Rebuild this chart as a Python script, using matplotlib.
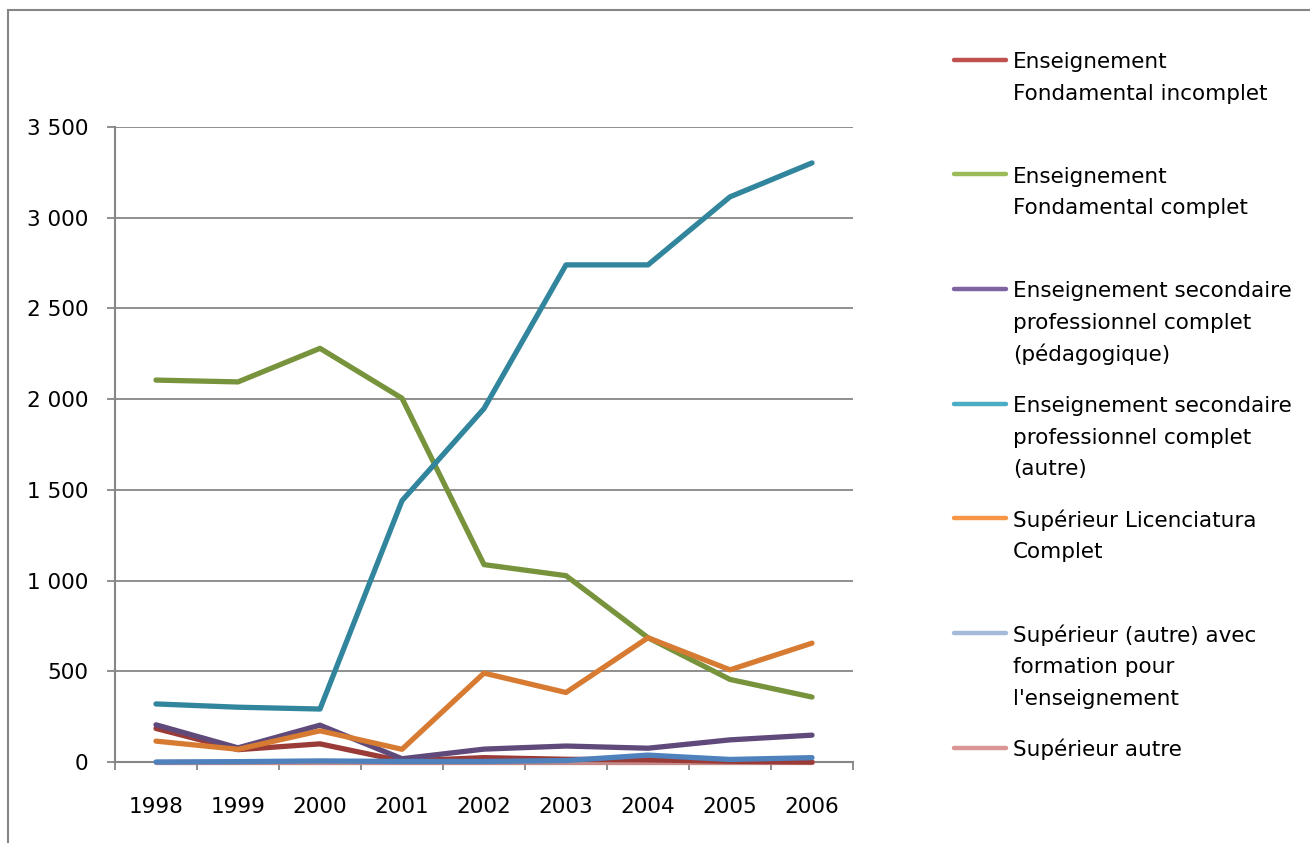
import matplotlib.pyplot as plt
from matplotlib.lines import Line2D
from matplotlib.patches import Rectangle

annees = ['1998', '1999', '2000', '2001', '2002', '2003', '2004', '2005', '2006']

series = [
    "Enseignement\nFondamental incomplet",
    "Enseignement\nFondamental complet",
    "Enseignement secondaire\nprofessionnel complet\n(pédagogique)",
    "Enseignement secondaire\nprofessionnel complet\n(autre)",
    "Supérieur Licenciatura\nComplet",
    "Supérieur (autre) avec\nformation pour\nl'enseignement",
    "Supérieur autre",
]

fond_incomplet = [185, 68, 100, 5, 24, 15, 12, 4, 0]
fond_complet = [2105, 2095, 2280, 2005, 1088, 1027, 685, 455, 358]
sec_pedago = [205, 78, 203, 18, 71, 88, 76, 122, 148]
sec_autre = [320, 302, 292, 1440, 1948, 2740, 2740, 3115, 3302]
licenciatura = [115, 70, 172, 70, 490, 383, 685, 508, 655]
sup_formation = [0, 2, 6, 3, 3, 8, 38, 14, 24]
sup_autre = [0, 0, 0, 0, 0, 0, 0, 0, 0]

valeurs = [fond_incomplet, fond_complet, sec_pedago, sec_autre,
           licenciatura, sup_formation, sup_autre]

# couleurs des lignes (plus foncées) et de la légende
couleurs_lignes = ['#9B3B38', '#77933C', '#604A7B', '#31859C', '#D77B33', '#4F81BD', '#C48A88']
couleurs_legende = ['#C0504D', '#9BBB59', '#8064A2', '#4BACC6', '#F79646', '#A5B9D9', '#D99694']

gris = '#868686'
police = 'DejaVu Sans'
taille = 15.5
W, H = 1310, 843

fig = plt.figure(figsize=(W / 100, H / 100), dpi=100)
ax = fig.add_axes([115 / W, (H - 762) / H, (853 - 115) / W, (762 - 127) / H])

x = list(range(len(annees)))
for k, (vals, c) in enumerate(zip(valeurs, couleurs_lignes)):
    z = 2.8 if k == 6 else 3 + k * 0.01
    ax.plot(x, vals, color=c, lw=3.8, solid_capstyle='round', solid_joinstyle='round',
            clip_on=False, zorder=z)

ax.set_xlim(-0.5, len(annees) - 0.5)
ax.set_ylim(0, 3500)
ax.set_yticks(range(0, 3501, 500))
ax.set_yticklabels(['{:,}'.format(v).replace(',', ' ') for v in range(0, 3501, 500)],
                   fontfamily=police, fontsize=taille)
ax.set_xticks(x)
ax.set_xticklabels(annees, fontfamily=police, fontsize=taille)
ax.set_xticks([i - 0.5 for i in range(len(annees) + 1)], minor=True)
ax.tick_params(axis='x', which='major', length=0, pad=25)
ax.tick_params(axis='x', which='minor', length=6, color=gris, width=1.3, direction='out')
ax.tick_params(axis='y', length=6, color=gris, width=1.3, pad=13)
ax.grid(axis='y', color=gris, lw=1.3)
ax.set_axisbelow(True)
for s in ['top', 'right']:
    ax.spines[s].set_visible(False)
for s in ['left', 'bottom']:
    ax.spines[s].set_color(gris)
    ax.spines[s].set_linewidth(1.5)
    ax.spines[s].set_zorder(1)

# cadre extérieur du graphique
fig.add_artist(Rectangle((8 / W, -0.2), 1.2, 1.2 - 10 / H, transform=fig.transFigure,
                         fill=False, ec=gris, lw=1.5))

# légende dessinée à la main
for i, (lab, c) in enumerate(zip(series, couleurs_legende)):
    yh = 59.5 + 114.7 * i
    fig.add_artist(Line2D([954 / W, 1006 / W], [1 - yh / H, 1 - yh / H],
                          transform=fig.transFigure, color=c, lw=3.2, solid_capstyle='round'))
    for j, ligne in enumerate(lab.split('\n')):
        yb = 68 + 114.7 * i + 31.7 * j
        fig.text(1013 / W, 1 - yb / H, ligne, ha='left', va='baseline',
                 fontfamily=police, fontsize=taille)

fig.savefig('out.png', dpi=100)
